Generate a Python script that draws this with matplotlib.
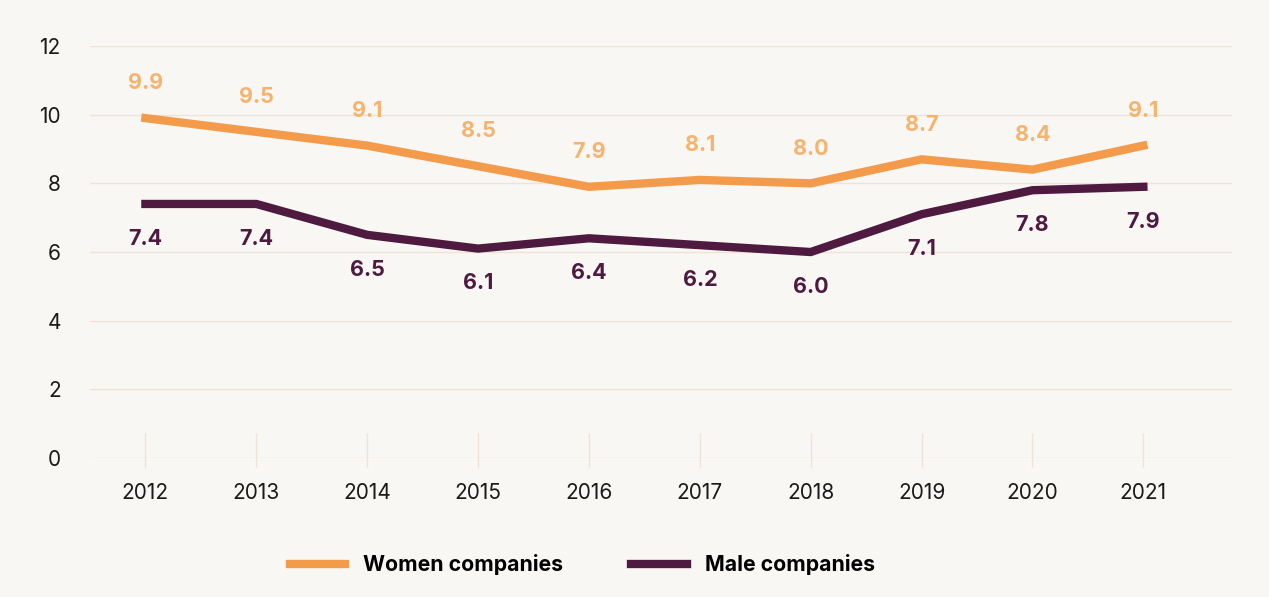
import matplotlib.pyplot as plt
import numpy as np

years = ["2012", "2013", "2014", "2015", "2016", "2017", "2018", "2019", "2020", "2021"]
women = [9.9, 9.5, 9.1, 8.5, 7.9, 8.1, 8.0, 8.7, 8.4, 9.1]
male = [7.4, 7.4, 6.5, 6.1, 6.4, 6.2, 6.0, 7.1, 7.8, 7.9]
yticks = [0, 2, 4, 6, 8, 10, 12]

bg = "#f9f7f4"
women_color = "#f39a4b"
women_label_color = "#f7b36d"
male_color = "#4e1a40"
grid_color = "#efe2d6"

plt.rcParams["font.family"] = ["Inter", "DejaVu Sans"]

fig = plt.figure(figsize=(12.69, 5.97), dpi=100, facecolor=bg)
ax = fig.add_axes([0.0709, 0.2328, 0.9, 0.6901], facecolor=bg)

x = np.arange(len(years))
ax.plot(x, women, color=women_color, lw=6, solid_joinstyle="miter", label="Women companies", zorder=3)
ax.plot(x, male, color=male_color, lw=6, solid_joinstyle="miter", label="Male companies", zorder=3)

# value labels
for xi, v in zip(x, women):
    ax.annotate(f"{v:.1f}", (xi, v), xytext=(0, 25), textcoords="offset points",
                ha="center", va="center", fontsize=15.5, fontweight="bold", color=women_label_color)
for xi, v in zip(x, male):
    ax.annotate(f"{v:.1f}", (xi, v), xytext=(0, -25), textcoords="offset points",
                ha="center", va="center", fontsize=15.5, fontweight="bold", color=male_color)

ax.set_xlim(-0.5, 9.8)
ax.set_ylim(0, 12)
ax.set_yticks(yticks)
ax.set_xticks(x)
ax.set_xticklabels(years)
ax.grid(axis="y", color=grid_color, lw=1)
ax.set_axisbelow(True)
ax.vlines(x, -0.26, 0.73, color=grid_color, lw=1, clip_on=False, zorder=1)

for s in ax.spines.values():
    s.set_visible(False)
ax.tick_params(axis="both", length=0, labelsize=15, colors="#1a1a1a")
ax.tick_params(axis="x", pad=18)
ax.tick_params(axis="y", pad=21)

fig.legend(loc="center", bbox_to_anchor=(0.459, 0.054), ncol=2, frameon=False,
           prop={"weight": "bold", "size": 15.3}, handlelength=2.6, handletextpad=0.85,
           columnspacing=3.2)

fig.savefig("out.png", dpi=100, facecolor=bg)
